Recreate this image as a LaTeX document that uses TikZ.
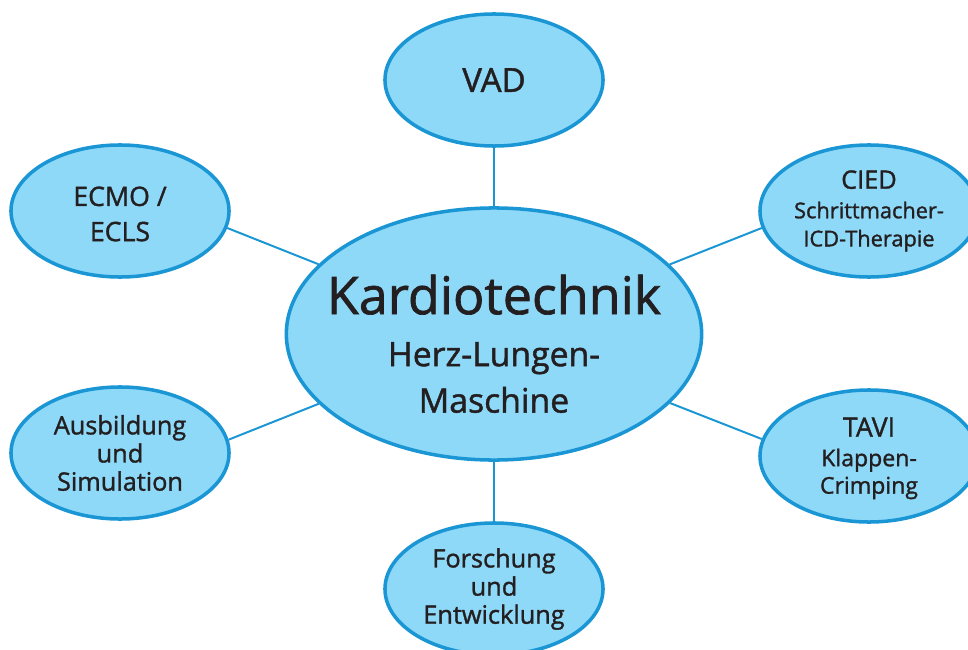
\documentclass[tikz,border=0pt]{standalone}
\usepackage{fontspec}
\setmainfont{Open Sans}[FakeBold=1.3]
\usetikzlibrary{shapes.geometric}
\definecolor{bubblefill}{HTML}{8ED8F8}
\definecolor{bubbleline}{HTML}{1A96D5}
\definecolor{inktext}{HTML}{231F20}

\begin{document}
\begin{tikzpicture}[x=0.025cm, y=-0.025cm,
  bubble/.style={ellipse, draw=bubbleline, line width=2.5pt, fill=bubblefill, text=inktext,
    inner sep=0pt, minimum width=5.45cm, minimum height=3.3cm, align=center,
    font=\fontsize{18}{20}\selectfont},
  link/.style={bubbleline, line width=1.4pt}]
\clip (0,0) rectangle (968,650);

% Mitte
\node[bubble, inner xsep=-20pt, inner ysep=-10pt, minimum width=10.38cm, minimum height=6.3cm,
  font=\fontsize{24}{33}\selectfont] (kt) at (494,334)
  {\rule{0pt}{42pt}{\fontsize{37}{40}\selectfont Kardiotechnik}\\[4pt]Herz-Lungen-\\Maschine};

% Arbeitsfelder rundherum
\node[bubble, font=\fontsize{23.5}{24}\selectfont] (vad) at (494,80) {VAD};
\node[bubble, font=\fontsize{19}{25}\selectfont] (ecmo) at (120,211) {\rule{0pt}{18pt}ECMO /\\ECLS};
\node[bubble, font=\fontsize{15.5}{20}\selectfont] (cied) at (869,211)
  {{\fontsize{18}{20}\selectfont CIED}\\[1pt]Schrittmacher-\\ICD-Therapie};
\node[bubble] (ausb) at (120,453) {Ausbildung\\und\\Simulation};
\node[bubble, font=\fontsize{16.4}{19.5}\selectfont] (tavi) at (869,456)
  {\rule{0pt}{17pt}{\fontsize{19}{20}\selectfont TAVI}\\[1.5pt]Klappen-\\Crimping};
\node[bubble] (fue) at (494,589) {Forschung\\und\\Entwicklung};

\draw[link] (vad) -- (kt);
\draw[link] (fue) -- (kt);
\draw[link] (ecmo.-9) -- (kt);
\draw[link] (ausb.7) -- (kt);
\draw[link] (cied.189) -- (kt);
\draw[link] (tavi.171) -- (kt);
\end{tikzpicture}
\end{document}
